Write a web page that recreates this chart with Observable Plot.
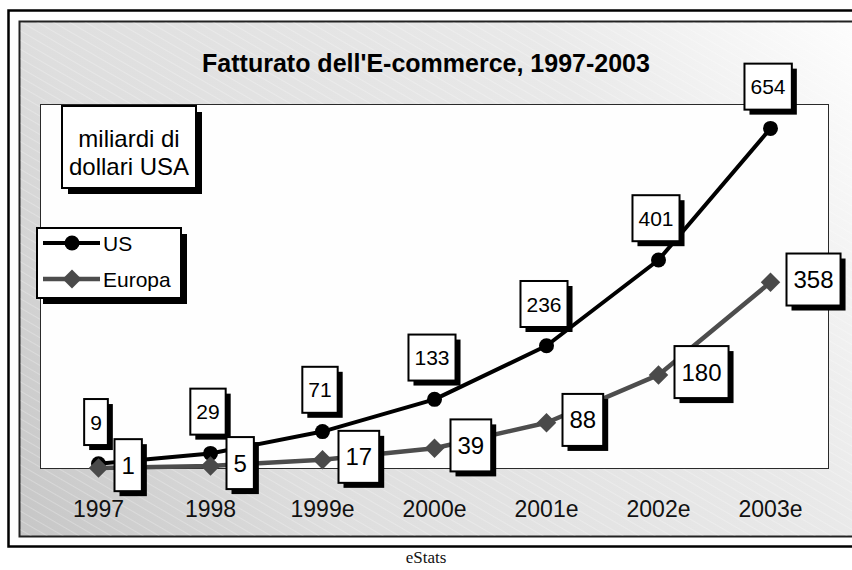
<!DOCTYPE html>
<html><head><meta charset="utf-8">
<script src="https://cdn.jsdelivr.net/npm/d3@7"></script>
<script src="https://cdn.jsdelivr.net/npm/@observablehq/plot@0.6"></script>
<style>
html,body{margin:0;padding:0;background:#fff;}
#chart svg{display:block;overflow:visible;}
#caption{width:852px;text-align:center;font-family:"Liberation Serif","Times New Roman",serif;font-size:17px;line-height:18px;color:#111;}
</style></head><body>
<div id="chart"></div><div id="caption"></div>
<script>
const years = ["1997", "1998", "1999e", "2000e", "2001e", "2002e", "2003e"];
const usValues = [9, 29, 71, 133, 236, 401, 654];
const europaValues = [1, 5, 17, 39, 88, 180, 358];
const seriesNames = ["US", "Europa"];
const titleText = "Fatturato dell'E-commerce, 1997-2003";
const unitLines = ["miliardi di", "dollari USA"];
const sourceText = "eStats";

const us = years.map((year, i) => ({year, value: usValues[i]}));
const eu = years.map((year, i) => ({year, value: europaValues[i]}));
const FONT = '"Liberation Sans", Arial, Helvetica, sans-serif';

const chart = Plot.plot({
  width: 852, height: 549,
  marginLeft: 40, marginRight: 24, marginTop: 104, marginBottom: 81,
  style: {fontFamily: FONT, fontSize: "23px", color: "#111", background: "transparent", overflow: "visible"},
  x: {type: "point", domain: years, padding: 0.5, tickSize: 0, tickPadding: 32, label: null},
  y: {domain: [0, 700], axis: null},
  marks: [
    Plot.frame({fill: "#fefefe", stroke: "#2a2a2a", strokeWidth: 1}),
    Plot.line(us, {x: "year", y: "value", stroke: "#000", strokeWidth: 4}),
    Plot.dot(us, {x: "year", y: "value", r: 7.5, fill: "#000"}),
    Plot.line(eu, {x: "year", y: "value", stroke: "#4d4d4d", strokeWidth: 4.5}),
    Plot.dot(eu, {x: "year", y: "value", symbol: "diamond2", r: 8.8, fill: "#4a4a4a"}),
    Plot.text(us, {x: "year", y: "value", text: d => String(d.value), dx: -2.5, dy: -41, fontSize: 21, fill: "#000", ariaLabel: "us-labels"}),
    Plot.text(eu, {x: "year", y: "value", text: d => String(d.value), textAnchor: "start", dx: 23, dy: -2, fontSize: 24, fill: "#000", ariaLabel: "eu-labels"})
  ]
});

document.getElementById("chart").append(chart);
document.getElementById("caption").textContent = sourceText;
const svg = d3.select(chart);

// background frames
const bg = svg.insert("g", ":first-child");
const defs = bg.append("defs");
const grad = defs.append("linearGradient").attr("id", "bgGrad")
  .attr("gradientUnits", "userSpaceOnUse")
  .attr("x1", 19).attr("y1", 536).attr("x2", 852).attr("y2", 21);
[[0, "#c6c6c6"], [0.28, "#dedede"], [0.72, "#e9e9e9"], [1, "#fdfdfd"]].forEach(([o, c]) =>
  grad.append("stop").attr("offset", o).attr("stop-color", c));
const pat = defs.append("pattern").attr("id", "hatch").attr("patternUnits", "userSpaceOnUse")
  .attr("width", 12).attr("height", 8).attr("patternTransform", "rotate(30)");
pat.append("line").attr("x1", 0).attr("y1", 0.5).attr("x2", 12).attr("y2", 0.5)
  .attr("stroke", "#fff").attr("stroke-opacity", 0.25).attr("stroke-width", 1);
bg.append("rect").attr("x", 8.5).attr("y", 10.5).attr("width", 900).attr("height", 536)
  .attr("fill", "#fff").attr("stroke", "#000").attr("stroke-width", 2.5);
bg.append("rect").attr("x", 19.5).attr("y", 21.5).attr("width", 900).attr("height", 515)
  .attr("fill", "url(#bgGrad)").attr("stroke", "#222").attr("stroke-width", 2);
bg.append("rect").attr("x", 20.5).attr("y", 22.5).attr("width", 900).attr("height", 513)
  .attr("fill", "url(#hatch)");

// boxed data labels
function boxLabels(label, fallbackIndex, padX, boxH) {
  let g = chart.querySelector(`g[aria-label="${label}"]`);
  if (!g) g = [...chart.querySelectorAll('g[aria-label="text"]')][fallbackIndex];
  if (!g) return;
  g.querySelectorAll("text").forEach(t => {
    const bb = t.getBBox();
    const tr = t.getAttribute("transform");
    const cy = bb.y + bb.height / 2;
    const w = bb.width + 2 * padX;
    const x = bb.x - padX, y = cy - boxH / 2;
    const mk = (dx, fill, stroke) => {
      const r = document.createElementNS("http://www.w3.org/2000/svg", "rect");
      r.setAttribute("x", x + dx); r.setAttribute("y", y + dx);
      r.setAttribute("width", w); r.setAttribute("height", boxH);
      r.setAttribute("fill", fill);
      if (stroke) { r.setAttribute("stroke", stroke); r.setAttribute("stroke-width", 2); }
      if (tr) r.setAttribute("transform", tr);
      g.insertBefore(r, t);
    };
    mk(5, "#000", null);
    mk(0, "#fff", "#000");
  });
}
boxLabels("us-labels", 0, 6, 46);
boxLabels("eu-labels", 1, 7, 52);

// title
svg.append("text").attr("x", 426).attr("y", 72).attr("text-anchor", "middle")
  .attr("font-family", FONT).attr("font-size", 25).attr("font-weight", "bold").attr("fill", "#000")
  .text(titleText);

// unit box
const ub = svg.append("g");
ub.append("rect").attr("x", 68).attr("y", 112).attr("width", 134).attr("height", 82).attr("fill", "#000");
ub.append("rect").attr("x", 62).attr("y", 106).attr("width", 134).attr("height", 82)
  .attr("fill", "#fff").attr("stroke", "#000").attr("stroke-width", 2);
unitLines.forEach((s, i) => ub.append("text").attr("x", 129).attr("y", 147 + i * 28)
  .attr("text-anchor", "middle").attr("font-family", FONT).attr("font-size", 24).attr("fill", "#000").text(s));

// legend
const lg = svg.append("g");
lg.append("rect").attr("x", 43).attr("y", 234).attr("width", 144).attr("height", 70).attr("fill", "#000");
lg.append("rect").attr("x", 37).attr("y", 228).attr("width", 144).attr("height", 70)
  .attr("fill", "#fff").attr("stroke", "#000").attr("stroke-width", 2);
lg.append("line").attr("x1", 43).attr("x2", 100).attr("y1", 243).attr("y2", 243).attr("stroke", "#000").attr("stroke-width", 4);
lg.append("circle").attr("cx", 72).attr("cy", 243).attr("r", 7.5).attr("fill", "#000");
lg.append("line").attr("x1", 43).attr("x2", 100).attr("y1", 279).attr("y2", 279).attr("stroke", "#4d4d4d").attr("stroke-width", 4.5);
lg.append("path").attr("d", "M72,269.5L81.5,279L72,288.5L62.5,279Z").attr("fill", "#4a4a4a");
seriesNames.forEach((s, i) => lg.append("text").attr("x", 103).attr("y", 243 + i * 36).attr("dy", "0.36em")
  .attr("text-anchor", "start")
  .attr("font-family", FONT).attr("font-size", 21).attr("fill", "#000").text(s));
</script>
</body></html>
